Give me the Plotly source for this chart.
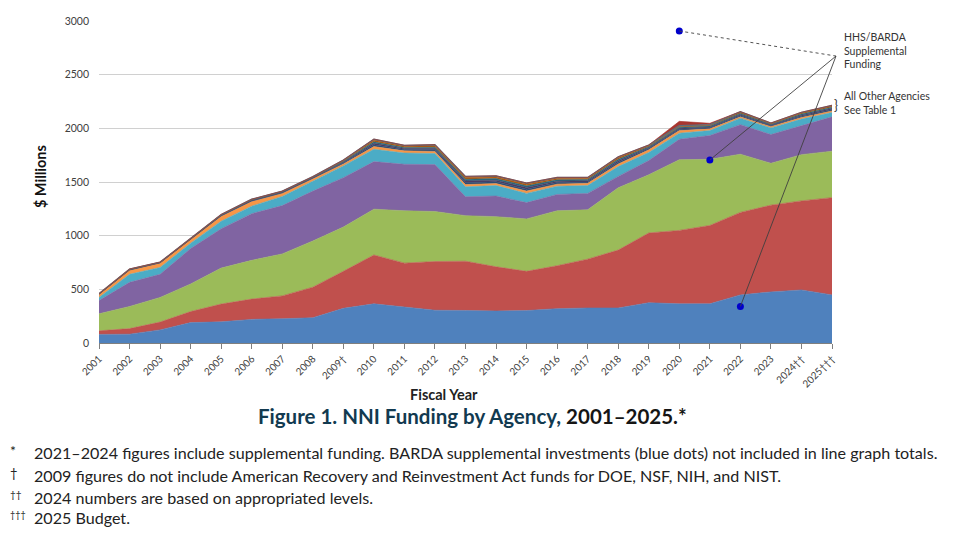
import plotly.graph_objects as go

# fiscal years (tick labels carry the footnote marks)
years = ["2001", "2002", "2003", "2004", "2005", "2006", "2007", "2008", "2009†",
         "2010", "2011", "2012", "2013", "2014", "2015", "2016", "2017", "2018",
         "2019", "2020", "2021", "2022", "2023", "2024††", "2025†††"]

# $ millions by agency (bottom -> top)
doe = [80, 82, 122, 190, 197, 220, 226, 235, 323, 365, 335, 305, 303, 298, 302,
       320, 326, 326, 375, 365, 365, 448, 476, 494, 448]
hhs_nih = [33, 52, 73, 103, 166, 189, 213, 285, 345, 455, 409, 454, 459, 412, 366,
           400, 455, 540, 650, 684, 730, 769, 808, 830, 906]
nsf = [159, 206, 229, 257, 335, 361, 391, 430, 412, 427, 488, 466, 424, 467, 488,
       512, 460, 580, 542, 659, 616, 542, 390, 431, 433]
dod = [123, 225, 216, 330, 366, 435, 450, 465, 460, 443, 433, 437, 177, 192, 152,
       152, 153, 106, 133, 190, 222, 275, 268, 270, 320]
doc_nist = [30, 75, 64, 50, 71, 70, 85, 90, 110, 115, 105, 103, 92, 98, 86,
            77, 73, 92, 75, 57, 46, 61, 62, 61, 40]
nasa = [27, 37, 40, 37, 45, 43, 29, 25, 18, 25, 20, 20, 21, 18, 21,
        19, 21, 24, 25, 25, 16, 12, 12, 15, 15]
epa = [2, 3, 3, 3, 5, 6, 6, 5, 9, 16, 12, 15, 18, 17, 18, 15, 13, 16, 11, 11, 10, 12, 8, 12, 13]
usda_nifa = [2, 3, 2, 3, 4, 5, 5, 5, 8, 14, 10, 12, 16, 15, 16, 13, 11, 14, 9, 9, 8, 10, 7, 10, 11]
hhs_niosh = [1, 2, 2, 2, 3, 4, 4, 4, 7, 14, 10, 12, 15, 15, 15, 12, 11, 13, 9, 9, 8, 10, 7, 10, 11]
hhs_fda = [1, 2, 1, 2, 3, 4, 3, 3, 7, 15, 12, 14, 16, 15, 16, 13, 12, 14, 9, 9, 8, 10, 7, 10, 11]
other = [2, 3, 2, 2, 3, 3, 3, 3, 6, 11, 8, 10, 11, 11, 11, 10, 8, 10, 7, 7, 6, 7, 5, 7, 7]
hhs_other = [0, 0, 0, 0, 0, 0, 0, 0, 0, 0, 0, 0, 0, 0, 0, 0, 0, 0, 0, 40, 12, 0, 0, 0, 0]

# BARDA supplemental (blue dots, not in the totals)
barda_years = ["2020", "2021", "2022"]
barda_vals = [2907, 1705, 341]

layers = [
    ("DOE", doe, "#4F81BD"),
    ("HHS/NIH", hhs_nih, "#C0504D"),
    ("NSF", nsf, "#9BBB59"),
    ("DOD", dod, "#8064A2"),
    ("DOC/NIST", doc_nist, "#4BACC6"),
    ("NASA", nasa, "#F79646"),
    ("EPA", epa, "#2C4D75"),
    ("USDA/NIFA", usda_nifa, "#4D3B62"),
    ("HHS/NIOSH", hhs_niosh, "#276A7C"),
    ("HHS/FDA", hhs_fda, "#B65708"),
    ("Other", other, "#5A6470"),
    ("HHS/Other", hhs_other, "#A8362F"),
]

FONT = "Lato"

# the page puts the figure 8px in from the top-left, so the figure is
# 8px smaller and all positions below are in window pixels
OFF = 8
W, H = 960 - OFF, 539 - OFF
L, R, T, B = 99, 832, 15, 343   # plot area, window pixels


def px(x):
    return (x - L) / (R - L)


def py(y):
    return (B - y) / (B - T)


fig = go.Figure()

for name, vals, col in layers:
    fig.add_trace(go.Scatter(
        x=years, y=vals, name=name, mode="lines", stackgroup="one",
        line=dict(width=0.6 if name != "Other" else 1.2,
                  color=col if name != "Other" else "#5F6B78"),
        fillcolor=col,
    ))

fig.add_trace(go.Scatter(
    x=barda_years, y=barda_vals, mode="markers", name="HHS/BARDA",
    marker=dict(color="#0000CC", size=7),
))

# leader lines from the dots to the label
hub_x, hub_y = px(836), py(50.7)
for yr, v in zip(barda_years, barda_vals):
    fig.add_shape(
        type="line", xref="paper", yref="paper",
        x0=years.index(yr) / (len(years) - 1), y0=v / 3000, x1=hub_x, y1=hub_y,
        line=dict(color="#404040", width=0.9, dash="dot" if yr == "2020" else "solid"),
        layer="above",
    )

annos = []
# white labels inside the areas
for txt, yv in [("DOC/NIST", 1720), ("DOD", 1455), ("NSF", 1034), ("HHS/NIH", 567), ("DOE", 174)]:
    annos.append(dict(x="2010", y=yv, xref="x", yref="y", text=txt, showarrow=False,
                      xanchor="left", xshift=1,
                      font=dict(family=FONT, size=13.5, color="white", weight="bold")))

annos += [
    dict(x=px(842), y=py(45), text="HHS/BARDA<br>Supplemental<br>Funding", align="left",
         xanchor="left", font=dict(size=10.5, color="#333333")),
    dict(x=px(842), y=py(99), text="All Other Agencies<br>See Table 1", align="left",
         xanchor="left", font=dict(size=10.5, color="#333333")),
    dict(x=px(836), y=py(101), text="}", xanchor="center",
         font=dict(size=13, color="#333333")),
    dict(x=px(40), y=py(174), text="<b>$ Millions</b>", textangle=-90, xanchor="center",
         font=dict(size=14.5, color="#111111")),
    dict(x=px(444), y=py(395.5), text="<b>Fiscal Year</b>", xanchor="center",
         font=dict(size=14.5, color="#222222")),
    dict(x=px(472), y=py(417.5),
         text="<b>Figure 1. NNI Funding by Agency, <span style='color:#151515'>2001–2025.*</span></b>",
         xanchor="center", font=dict(size=20.5, color="#123A50")),
]

notes = [
    ("*", 14, "2021–2024 figures include supplemental funding. BARDA supplemental investments (blue dots) not included in line graph totals.", 455),
    ("†", 13, "2009 figures do not include American Recovery and Reinvestment Act funds for DOE, NSF, NIH, and NIST.", 478),
    ("††", 10, "2024 numbers are based on appropriated levels.", 500),
    ("†††", 9, "2025 Budget.", 521),
]
for mark, msize, txt, y in notes:
    annos.append(dict(x=px(8), y=py(y - 3), text=mark, xanchor="left",
                      font=dict(size=msize, color="#222222")))
    annos.append(dict(x=px(32), y=py(y), text=txt, xanchor="left",
                      font=dict(size=16.1, color="#222222")))

for a in annos:
    a.setdefault("xref", "paper")
    a.setdefault("yref", "paper")
    a.setdefault("showarrow", False)
    a.setdefault("yanchor", "middle")

fig.update_layout(
    width=W, height=H,
    margin=dict(l=L - OFF, r=960 - R, t=T - OFF, b=539 - B),
    paper_bgcolor="white", plot_bgcolor="white",
    showlegend=False,
    font=dict(family=FONT, color="#404040"),
    annotations=annos,
    xaxis=dict(type="category", range=[0, len(years) - 1], showgrid=False,
               showline=True, linecolor="#7F7F7F", linewidth=1,
               ticks="outside", ticklen=5, tickcolor="#7F7F7F",
               tickangle=-45, tickfont=dict(size=10, color="#404040")),
    yaxis=dict(range=[0, 3000], dtick=500, showgrid=True, gridcolor="#D0D0D0",
               gridwidth=1, zeroline=False, showline=False,
               ticks="", ticklabelstandoff=9, tickfont=dict(size=10.5, color="#404040")),
)

fig.write_html("out.html")
